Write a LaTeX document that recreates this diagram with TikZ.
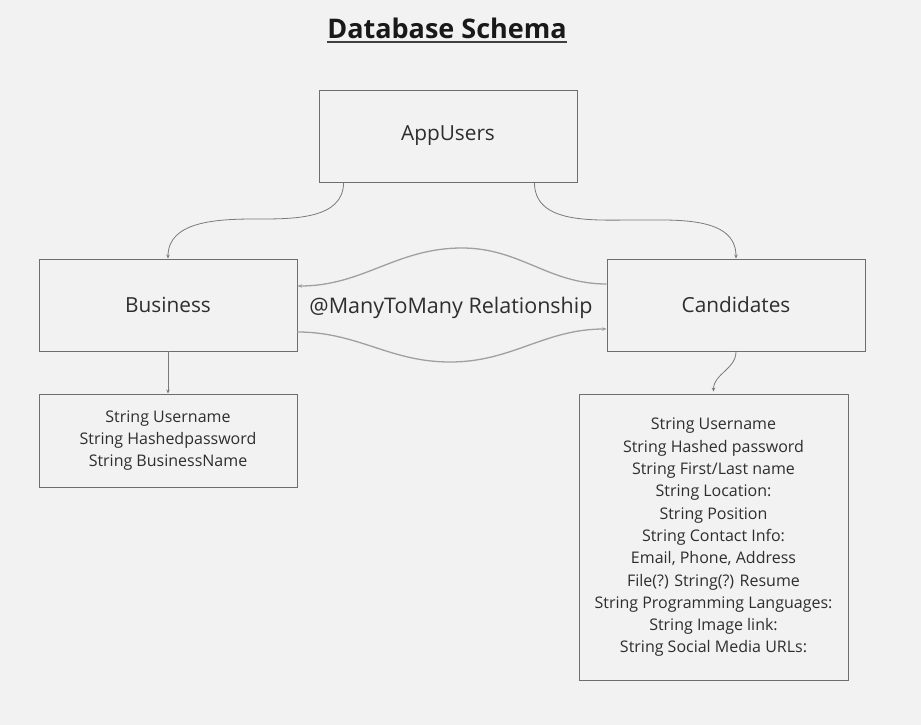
\documentclass[tikz,border=0pt]{standalone}
\usepackage{fontspec}
\setmainfont{Open Sans}
\usetikzlibrary{arrows.meta,calc}
\definecolor{bg}{HTML}{F2F2F2}
\definecolor{boxline}{HTML}{6E6E6E}
\definecolor{conn}{HTML}{7A7A7A}
\definecolor{wave}{HTML}{A0A0A0}
\definecolor{txt}{HTML}{2E2E2E}
\tikzset{
  ent/.style={draw=boxline, line width=0.9pt, fill=bg, minimum width=258pt, minimum height=92pt, inner sep=0pt, text=txt, font=\fontsize{20.8}{24}\selectfont},
  attr/.style={draw=boxline, line width=0.9pt, fill=bg, inner sep=0pt, text=txt, align=center, font=\fontsize{16}{22.3}\selectfont},
  link/.style={draw=conn, line width=0.8pt, -{Stealth[length=4pt,width=3.5pt]}},
  wavy/.style={draw=wave, line width=1.3pt, -{Stealth[length=4.5pt,width=3.5pt,fill=conn]}},
}
\begin{document}
\begin{tikzpicture}[x=1pt,y=-1pt]
\fill[bg] (0,0) rectangle (921,725);
\useasboundingbox (0,0) rectangle (921,725);

\node[font=\bfseries\fontsize{27}{32}\selectfont, text=black!90, inner sep=0pt, anchor=base] (title) at (447,39) {Database Schema};
\draw[line width=2pt, black!75] ([yshift=-3.5pt]title.base west) -- ([yshift=-3.5pt]title.base east);

\node[ent] (app) at (448,136) {AppUsers};
\node[ent] (biz) at (168,305) {Business};
\node[ent] (cand) at (736,305) {Candidates};

\node[attr, minimum width=258pt, minimum height=93pt] (bizattr) at (168,440.5) {String Username\\String Hashedpassword\\String BusinessName};
\node[attr, minimum width=269pt, minimum height=286pt] (candattr) at (713.5,537) {};
\node[text=txt, align=center, inner sep=0pt, font=\fontsize{16}{22.3}\selectfont] (candtext) at (713.5,537.5) {String Username\\String Hashed password\\String First/Last name\\String Location:\\String Position\\String Contact Info:\\Email, Phone, Address\\File(?) String(?) Resume\\String Programming Languages:\\String Image link:\\String Social Media URLs:};

\node[text=txt, inner sep=0pt, font=\fontsize{21.5}{25}\selectfont] (m2m) at (451,308) {@ManyToMany Relationship};

% connectors
\draw[link] ($(app.south west)+(25,0)$) to[out=-90,in=0] (256,219) to[out=180,in=90] (biz.north);
\draw[link] ($(app.south east)+(-43,0)$) to[out=-90,in=180] (635,220) to[out=0,in=90] (cand.north);
\draw[wavy] ($(cand.west)+(0,-21)$) to[out=180,in=0] (462,248) to[out=180,in=0] ($(biz.east)+(0,-19)$);
\draw[wavy] ($(biz.east)+(0,27)$) to[out=0,in=180] (450,362) to[out=0,in=180] ($(cand.west)+(0,24)$);
\draw[link] (biz.south) -- (bizattr.north);
\draw[link] (cand.south) to[out=-90,in=90] ($(candattr.north)+(0,-2)$);
\end{tikzpicture}
\end{document}
